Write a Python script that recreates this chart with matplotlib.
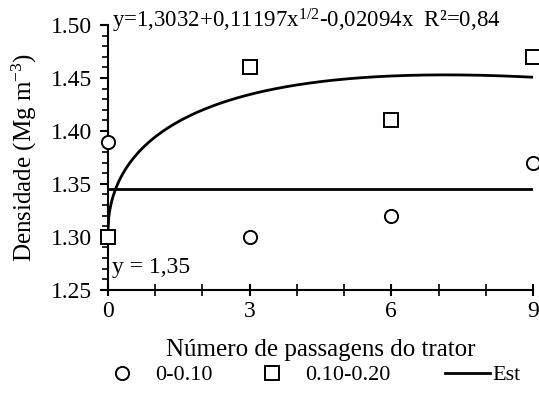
import numpy as np
import matplotlib
matplotlib.use("Agg")
import matplotlib.pyplot as plt
from matplotlib.ticker import MultipleLocator

plt.rcParams['font.family'] = ['Liberation Serif', 'DejaVu Serif']
plt.rcParams['mathtext.fontset'] = 'custom'
plt.rcParams['mathtext.rm'] = 'Liberation Serif'
plt.rcParams['mathtext.it'] = 'Liberation Serif:italic'

passagens = [0, 3, 6, 9]
dens_0_10 = [1.39, 1.30, 1.32, 1.37]
dens_10_20 = [1.30, 1.46, 1.41, 1.47]

# fitted model for 0.10-0.20 (as printed on the chart)
b0, b1, b2 = 1.3032, 0.11197, -0.02094
# mean for 0-0.10
media_0_10 = np.mean(dens_0_10)

fig = plt.figure(figsize=(5.39, 3.96), dpi=100)
ax = fig.add_axes([0.200, 0.268, 0.789, 0.669])

x_fit = np.linspace(0, 9, 400)
y_fit = b0 + b1 * np.sqrt(x_fit) + b2 * x_fit

h1, = ax.plot(passagens, dens_0_10, 'o', ms=9.5, mfc='white', mec='black', mew=1.4,
              clip_on=False, zorder=3)
h2, = ax.plot(passagens, dens_10_20, 's', ms=10, mfc='white', mec='black', mew=1.4,
              clip_on=False, zorder=3)
h3, = ax.plot(x_fit, y_fit, color='black', lw=2)
ax.plot([0, 9], [media_0_10, media_0_10], color='black', lw=2)

ax.set_xlim(0, 9)
ax.set_ylim(1.25, 1.50)
ax.set_xticks([0, 3, 6, 9])
ax.xaxis.set_minor_locator(MultipleLocator(1))
ax.set_yticks([1.25, 1.30, 1.35, 1.40, 1.45, 1.50])
ax.set_yticklabels(['1.25', '1.30', '1.35', '1.40', '1.45', '1.50'])
ax.yaxis.set_minor_locator(MultipleLocator(0.01))

ax.spines['top'].set_visible(False)
ax.spines['right'].set_visible(False)
ax.spines['left'].set_linewidth(1.5)
ax.spines['bottom'].set_linewidth(1.5)
ax.tick_params(axis='y', which='major', direction='out', length=6, width=1.5,
               labelsize=17, pad=5)
ax.tick_params(axis='y', which='minor', direction='out', length=4, width=1.2)
ax.tick_params(axis='x', which='major', direction='inout', length=8, width=1.5,
               labelsize=17, pad=4)
ax.tick_params(axis='x', which='minor', direction='inout', length=8, width=1.2)

ax.set_xlabel('Número de passagens do trator', fontsize=18, labelpad=12)
ax.set_ylabel('Densidade (Mg m$^{-3}$)', fontsize=18, labelpad=9)

ax.text(0.01, 1.015, 'y=1,3032+0,11197x$^{1/2}$-0,02094x  R²=0,84',
        transform=ax.transAxes, fontsize=16.5, va='center', ha='left')
ax.text(0.01, 0.085, 'y = 1,35', transform=ax.transAxes, fontsize=17,
        va='center', ha='left')

# one legend per entry so the spacing follows the reference
leg_y = 1 - 375 / 396
entries = [(h1, '0-0.10', 100, 2.0, 0.5),
           (h2, '0.10-0.20', 250, 2.0, 0.5),
           (h3, 'Est', 445, 2.03, 0.1)]
for h, lab, x0, hl, tp in entries:
    fig.legend([h], [lab], loc='center left', bbox_to_anchor=(x0 / 539, leg_y),
               frameon=False, fontsize=16, handlelength=hl, handletextpad=tp,
               borderpad=0, borderaxespad=0)

fig.savefig('out.png', dpi=100)
